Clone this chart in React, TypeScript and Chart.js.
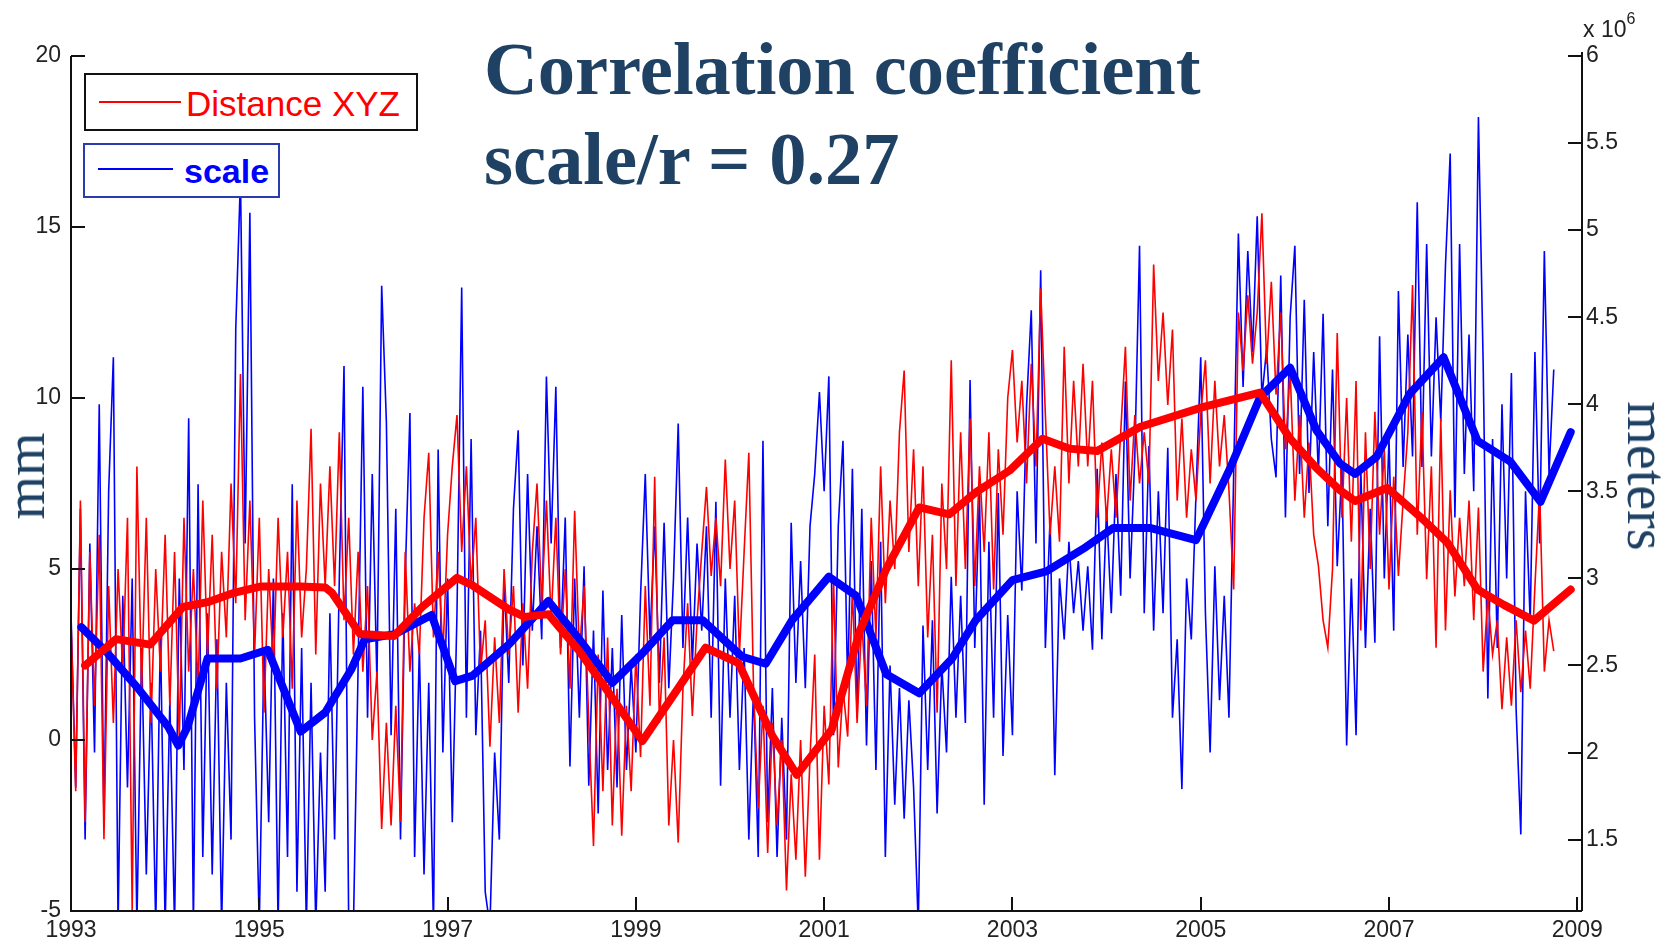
import React, { useEffect, useRef } from "react";
import { Chart, registerables } from "chart.js";

Chart.register(...registerables);

// ---- data ----
const START_YEAR = 1993;
const STEP_YEARS = 0.05;

// Distance XYZ, mm (left axis), every 0.05 yr from 1993.00
const distanceSeries = [
  3.5, -1.5, 7.0, -2.4, 5.5, 1.0, 6.0, -2.9, 4.5, 0.5,
  5.0, 2.0, 6.5, -5.0, 8.0, 1.5, 6.5, 0.5, 5.0, 2.0,
  6.0, 1.0, 5.5, 0.0, 6.5, 2.0, 5.0, 1.5, 7.0, 2.5,
  6.0, 1.5, 5.5, 3.0, 7.5, 4.0, 10.7, 3.5, 7.0, 2.5,
  6.5, 0.8, 5.0, 2.0, 6.5, 3.0, 5.5, 1.5, 7.0, 3.0,
  5.0, 9.1, 2.5, 7.5, 4.5, 8.0, 4.5, 9.0, 3.5, 6.5,
  2.5, 5.5, 2.0, 4.5, 0.0, 2.0, -2.6, 0.5, -2.5, 1.0,
  -2.4, 5.5, 2.0, 4.0, 2.5, 6.5, 8.4, 3.0, 5.5, 2.5,
  6.0, 8.0, 9.5, 5.5, 8.0, 4.5, 6.5, 2.0, 3.5, -0.2,
  3.0, 0.5, 5.0, 2.5, 4.5, 0.8, 4.0, 1.5, 5.5, 7.5,
  4.0, 7.0, 3.5, 6.5, 2.5, 5.0, 1.5, 6.7, 2.5, 4.5,
  0.5, -3.1, 2.5, -1.5, 3.0, -2.5, 1.5, -2.8, 1.0, -1.5,
  2.5, -0.5, 4.5, 1.0, 7.7, 0.5, 3.0, -2.5, 0.0, -3.0,
  1.5, 4.0, 0.7, 3.5, 5.5, 7.4, 4.8, 6.5, 4.5, 8.2,
  5.0, 7.0, 2.5, 5.5, 8.4, 1.5, -2.0, 1.0, -3.3, 0.5,
  -2.5, 0.0, -4.4, -1.0, -3.5, 0.0, -4.0, -0.5, 2.5, -3.5,
  1.0, -1.3, 4.7, -0.8, 1.5, 0.1, 4.4, 0.5, 3.5, 1.0,
  6.5, 3.0, 8.0, 4.0, 7.0, 5.0, 9.0, 10.8, 5.5, 8.5,
  4.5, 8.0, 3.0, 6.0, 0.8, 7.5, 5.0, 11.1, 4.5, 9.0,
  5.0, 9.4, 4.5, 8.0, 5.5, 9.0, 4.4, 8.5, 6.0, 10.0,
  11.4, 8.7, 10.5, 7.5, 11.0, 8.0, 13.2, 9.5, 6.0, 8.0,
  5.8, 11.5, 7.5, 10.5, 8.0, 11.0, 8.0, 10.5, 6.5, 8.7,
  6.4, 8.5, 6.5, 9.0, 11.5, 7.0, 9.5, 7.5, 9.0, 7.5,
  13.9, 10.5, 12.5, 9.8, 12.0, 7.0, 9.4, 6.5, 8.5, 7.0,
  9.5, 11.1, 7.5, 10.5, 8.0, 9.5, 7.3, 4.4, 12.5, 10.8,
  13.0, 11.0, 12.5, 15.4, 11.0, 13.4, 10.1, 12.5, 8.5, 10.8,
  7.0, 9.5, 6.5, 8.7, 6.0, 5.1, 3.5, 2.7, 5.0, 11.9,
  6.5, 10.0, 5.8, 10.5, 3.2, 9.0, 5.0, 9.6, 6.0, 8.5,
  4.4, 7.7, 4.8, 7.0, 9.0, 13.3, 6.0, 9.6, 4.7, 8.0,
  2.7, 9.4, 3.2, 7.3, 4.2, 6.5, 4.5, 7.0, 3.5, 6.8,
  2.0, 4.2, 2.5, 3.5, 0.9, 3.0, 1.0, 3.5, 1.4, 3.2,
  1.5, 4.5, 7.3, 2.0, 3.5, 2.6,
];

// scale, right axis (x 10^6), every 0.05 yr from 1993.00
const scaleSeries = [
  2.8, 1.8, 3.4, 1.5, 3.2, 2.0, 4.0, 1.6, 3.5, 4.27,
  1.0, 2.9, 1.8, 3.0, 1.0, 2.6, 1.3, 2.4, 1.0, 2.7,
  1.0, 2.3, 1.0, 3.0, 1.9, 3.92, 1.0, 3.54, 1.4, 2.8,
  1.3, 2.65, 1.0, 2.4, 1.5, 4.43, 5.3, 3.2, 5.1, 2.2,
  1.0, 2.6, 1.6, 3.0, 1.0, 2.8, 1.4, 3.54, 1.2, 2.6,
  1.0, 2.4, 1.0, 2.0, 1.2, 2.8, 1.5, 3.0, 4.22, 1.0,
  1.0, 2.5, 4.1, 2.2, 3.6, 2.4, 4.68, 3.9, 2.1, 3.4,
  1.5, 3.0, 3.95, 1.4, 2.6, 1.3, 2.4, 1.0, 3.74, 2.0,
  3.0, 1.6, 2.8, 4.67, 2.2, 3.8, 2.1, 2.7, 1.2, 1.0,
  2.0, 1.5, 3.0, 2.4, 3.4, 3.85, 2.5, 3.6, 2.7, 3.3,
  2.65, 4.16, 3.2, 4.1, 2.6, 3.35, 1.92, 3.0, 2.2, 3.07,
  1.81, 2.7, 1.65, 2.93, 1.9, 2.6, 1.8, 2.79, 1.9, 2.5,
  2.0, 2.9, 3.6, 2.65, 3.3, 2.4, 3.32, 2.37, 3.0, 3.89,
  2.6, 3.35, 2.51, 3.2, 2.7, 3.3, 2.2, 3.44, 1.81, 3.0,
  2.2, 2.9, 1.9, 2.6, 1.5, 2.37, 1.4, 3.79, 1.6, 2.37,
  1.4, 2.2, 1.5, 3.32, 2.4, 3.1, 2.37, 3.3, 3.6, 4.07,
  3.5, 4.16, 2.1, 3.3, 3.79, 2.37, 3.63, 2.2, 3.4, 2.04,
  3.1, 1.9, 3.21, 1.4, 2.5, 1.7, 2.37, 1.62, 2.3, 1.8,
  1.0, 2.73, 1.9, 2.76, 1.65, 2.5, 2.0, 3.01, 2.2, 2.9,
  2.17, 4.14, 2.6, 3.49, 1.7, 3.21, 2.2, 3.49, 1.98, 2.79,
  2.1, 3.5, 2.93, 3.99, 4.54, 3.2, 4.77, 2.6, 3.35, 1.87,
  3.0, 2.65, 3.21, 2.8, 3.1, 2.7, 3.07, 2.59, 3.63, 2.65,
  3.4, 2.8, 3.6, 2.9, 4.13, 3.0, 3.7, 4.91, 2.8, 3.76,
  2.7, 3.5, 2.8, 3.75, 2.2, 2.65, 1.79, 3.0, 2.65, 3.49,
  4.27, 2.8, 2.0, 3.07, 2.3, 2.9, 2.2, 3.6, 4.98, 4.1,
  4.88, 4.3, 5.08, 4.04, 4.32, 3.8, 3.58, 4.74, 3.35, 4.5,
  4.91, 3.6, 4.6, 3.49, 4.3, 3.6, 4.52, 3.3, 4.2, 3.07,
  3.64, 2.04, 3.0, 2.1, 3.64, 2.6, 3.4, 2.63, 4.39, 3.0,
  3.8, 2.7, 4.65, 3.64, 4.4, 3.7, 5.16, 3.64, 4.92, 3.7,
  4.5, 3.9, 4.8, 5.44, 3.35, 4.92, 3.6, 4.4, 3.5, 5.65,
  4.24, 2.31, 3.8, 2.6, 4.0, 3.0, 4.18, 2.25, 1.53, 3.5,
  2.75, 4.3, 3.2, 4.88, 3.6, 4.2,
];

// smoothed curves (thick lines)
const distanceTrendYears = [
  1993.15, 1993.48, 1993.84, 1994.19, 1994.45, 1994.74, 1995.02, 1995.44, 1995.7, 1995.77,
  1996.07, 1996.43, 1996.73, 1997.1, 1997.26, 1997.65, 1997.82, 1998.07, 1998.4, 1998.71,
  1999.07, 1999.74, 2000.09, 2000.45, 2000.71, 2001.08, 2001.38, 2001.66, 2002.01, 2002.33,
  2002.61, 2002.97, 2003.32, 2003.6, 2003.9, 2004.36, 2005.03, 2005.63, 2005.95, 2006.23,
  2006.48, 2006.64, 2006.98, 2007.33, 2007.62, 2007.94, 2008.22, 2008.54, 2008.93,
];
const distanceTrendMm = [
  2.18, 2.95, 2.79, 3.89, 4.03, 4.31, 4.49, 4.49, 4.46, 4.31,
  3.1, 3.04, 3.89, 4.74, 4.53, 3.82, 3.6, 3.68, 2.6, 1.39,
  -0.03, 2.7, 2.25, 0.12, -1.02, 0.3, 3.2, 5.0, 6.8, 6.6,
  7.24, 7.88, 8.81, 8.52, 8.45, 9.16, 9.74, 10.16, 8.81, 7.95,
  7.3, 6.99, 7.37, 6.53, 5.77, 4.4, 3.95, 3.49, 4.4,
];

const scaleTrendYears = [
  1993.11, 1993.39, 1993.71, 1994.03, 1994.14, 1994.24, 1994.45, 1994.8, 1995.09, 1995.44,
  1995.7, 1995.98, 1996.12, 1996.44, 1996.83, 1997.08, 1997.26, 1997.65, 1998.07, 1998.4,
  1998.75, 1999.07, 1999.39, 1999.71, 2000.13, 2000.38, 2000.66, 2001.05, 2001.34, 2001.66,
  2002.01, 2002.36, 2002.61, 2003.0, 2003.36, 2003.78, 2004.07, 2004.46, 2004.95, 2005.31,
  2005.63, 2005.95, 2006.23, 2006.48, 2006.64, 2006.87, 2007.22, 2007.58, 2007.94, 2008.29,
  2008.61, 2008.93,
];
const scaleTrendValues = [
  2.72, 2.57, 2.37, 2.15, 2.04, 2.15, 2.54, 2.54, 2.59, 2.12,
  2.23, 2.48, 2.65, 2.68, 2.79, 2.41, 2.44, 2.62, 2.87, 2.65,
  2.4, 2.57, 2.76, 2.76, 2.55, 2.51, 2.76, 3.01, 2.9, 2.45,
  2.34, 2.54, 2.76, 2.99, 3.04, 3.18, 3.29, 3.29, 3.22, 3.63,
  4.04, 4.21, 3.85, 3.66, 3.6, 3.7, 4.06, 4.27, 3.79, 3.67,
  3.44, 3.84,
];

const yearTicks = [1993, 1995, 1997, 1999, 2001, 2003, 2005, 2007, 2009];
const mmTicks = [-5, 0, 5, 10, 15, 20];
const meterTicks = [1.5, 2, 2.5, 3, 3.5, 4, 4.5, 5, 5.5, 6];

const W = 1677;
const H = 946;
const TICK_FONT = { family: "'Liberation Sans', Arial, sans-serif", size: 23 };
const TITLE_COLOR = "#1f4264";

const matlabAxes = {
  id: "matlabAxes",
  afterDatasetsDraw(chart: any) {
    const { ctx, chartArea, scales } = chart;
    const { left, right, top, bottom } = chartArea;
    ctx.save();
    ctx.strokeStyle = "#111";
    ctx.lineWidth = 2;
    ctx.beginPath();
    ctx.moveTo(left, top);
    ctx.lineTo(left, bottom);
    ctx.lineTo(right, bottom);
    ctx.moveTo(right, top - 4);
    ctx.lineTo(right, bottom);
    const TL = 14;
    mmTicks.forEach((v) => {
      const y = Math.round(scales.y.getPixelForValue(v));
      ctx.moveTo(left, y);
      ctx.lineTo(left + TL, y);
    });
    meterTicks.forEach((v) => {
      const y = Math.round(scales.y1.getPixelForValue(v));
      ctx.moveTo(right, y);
      ctx.lineTo(right - TL, y);
    });
    yearTicks.forEach((v) => {
      const x = Math.round(scales.x.getPixelForValue(v));
      ctx.moveTo(x, bottom);
      ctx.lineTo(x, bottom - TL);
    });
    ctx.stroke();
    ctx.restore();
  },
};

export default function App() {
  const canvasRef = useRef<HTMLCanvasElement | null>(null);

  useEffect(() => {
    if (!canvasRef.current) return;
    const toPoints = (arr: number[]) =>
      arr.map((v, i) => ({ x: START_YEAR + i * STEP_YEARS, y: v }));
    const zip = (xs: number[], ys: number[]) => xs.map((x, i) => ({ x, y: ys[i] }));

    const chart = new Chart(canvasRef.current, {
      type: "line",
      data: {
        datasets: [
          {
            label: "Distance XYZ (smoothed)",
            data: zip(distanceTrendYears, distanceTrendMm),
            yAxisID: "y",
            borderColor: "#ff0000",
            borderWidth: 8,
            pointRadius: 0,
            tension: 0,
            borderJoinStyle: "round",
            borderCapStyle: "round",
            order: 0,
          },
          {
            label: "scale (smoothed)",
            data: zip(scaleTrendYears, scaleTrendValues),
            yAxisID: "y1",
            borderColor: "#0000ff",
            borderWidth: 8,
            pointRadius: 0,
            tension: 0,
            borderJoinStyle: "round",
            borderCapStyle: "round",
            order: 1,
          },
          {
            label: "Distance XYZ",
            data: toPoints(distanceSeries),
            yAxisID: "y",
            borderColor: "#ff0000",
            borderWidth: 1.6,
            pointRadius: 0,
            tension: 0,
            order: 2,
          },
          {
            label: "scale",
            data: toPoints(scaleSeries),
            yAxisID: "y1",
            borderColor: "#0000ff",
            borderWidth: 1.6,
            pointRadius: 0,
            tension: 0,
            order: 3,
          },
        ],
      },
      options: {
        responsive: false,
        animation: false,
        maintainAspectRatio: false,
        layout: { padding: { top: 56, left: 0, right: 0, bottom: 0 } },
        plugins: { legend: { display: false }, tooltip: { enabled: false } },
        scales: {
          x: {
            type: "linear",
            min: 1993,
            max: 2009.05,
            grid: { display: false, drawTicks: false },
            border: { display: false },
            afterBuildTicks: (s: any) => {
              s.ticks = yearTicks.map((v) => ({ value: v }));
            },
            afterFit: (s: any) => {
              s.height = 35;
            },
            ticks: {
              autoSkip: false,
              maxRotation: 0,
              padding: 6,
              color: "#222",
              font: TICK_FONT,
              callback: (v: any) => String(v),
            },
          },
          y: {
            type: "linear",
            position: "left",
            min: -5,
            max: 20,
            grid: { display: false, drawTicks: false },
            border: { display: false },
            afterBuildTicks: (s: any) => {
              s.ticks = mmTicks.map((v) => ({ value: v }));
            },
            afterFit: (s: any) => {
              s.width = 71;
            },
            ticks: {
              padding: 10,
              color: "#222",
              font: TICK_FONT,
              callback: (v: any) => String(v),
            },
          },
          y1: {
            type: "linear",
            position: "right",
            min: 1.09,
            max: 6,
            grid: { display: false, drawTicks: false },
            border: { display: false },
            afterBuildTicks: (s: any) => {
              s.ticks = meterTicks.map((v) => ({ value: v }));
            },
            afterFit: (s: any) => {
              s.width = 95;
            },
            ticks: {
              padding: 4,
              color: "#222",
              font: TICK_FONT,
              callback: (v: any) => String(v),
            },
          },
        },
      },
      plugins: [matlabAxes],
    } as any);

    return () => chart.destroy();
  }, []);

  const abs = (s: React.CSSProperties): React.CSSProperties => ({ position: "absolute", ...s });

  return (
    <div style={{ position: "absolute", left: 0, top: 0, width: W, height: H, background: "#fff", overflow: "hidden" }}>
      <canvas ref={canvasRef} width={W} height={H} style={{ position: "absolute", left: 0, top: 0, width: W, height: H }} />

      {/* title */}
      <div style={abs({ left: 484, top: 31, font: "bold 74.5px 'Liberation Serif', 'Times New Roman', serif", lineHeight: "76px", color: TITLE_COLOR, whiteSpace: "nowrap" })}>
        Correlation coefficient
      </div>
      <div style={abs({ left: 484, top: 121, font: "bold 74.5px 'Liberation Serif', 'Times New Roman', serif", lineHeight: "76px", color: TITLE_COLOR, whiteSpace: "nowrap" })}>
        scale/r = 0.27
      </div>

      {/* axis titles */}
      <div style={abs({ left: 25, top: 476, transform: "translate(-50%, -50%) rotate(-90deg)", font: "56px 'Liberation Serif', 'Times New Roman', serif", lineHeight: "56px", color: TITLE_COLOR, whiteSpace: "nowrap" })}>
        mm
      </div>
      <div style={abs({ left: 1647, top: 476, transform: "translate(-50%, -50%) rotate(90deg)", font: "56px 'Liberation Serif', 'Times New Roman', serif", lineHeight: "56px", color: TITLE_COLOR, whiteSpace: "nowrap" })}>
        meters
      </div>

      {/* exponent label */}
      <div style={abs({ left: 1583, top: 14, font: "23px 'Liberation Sans', Arial, sans-serif", lineHeight: "30px", color: "#222", whiteSpace: "nowrap" })}>
        x 10<span style={{ position: "relative", top: -13, fontSize: 16 }}>6</span>
      </div>

      {/* legend boxes */}
      <div style={abs({ left: 84, top: 73, width: 334, height: 58, boxSizing: "border-box", border: "2px solid #111", background: "#fff" })} />
      <div style={abs({ left: 99, top: 101, width: 82, height: 2, background: "#ff0000" })} />
      <div style={abs({ left: 186, top: 86, font: "35px 'Liberation Sans', Arial, sans-serif", lineHeight: "35px", color: "#ff0000", whiteSpace: "nowrap" })}>
        Distance XYZ
      </div>

      <div style={abs({ left: 83, top: 143, width: 197, height: 55, boxSizing: "border-box", border: "2px solid #2a3bb0", background: "#fff" })} />
      <div style={abs({ left: 98, top: 168, width: 75, height: 2, background: "#0000ff" })} />
      <div style={abs({ left: 184, top: 154, font: "bold 34px 'Liberation Sans', Arial, sans-serif", lineHeight: "34px", color: "#0000ff", whiteSpace: "nowrap" })}>
        scale
      </div>
    </div>
  );
}
